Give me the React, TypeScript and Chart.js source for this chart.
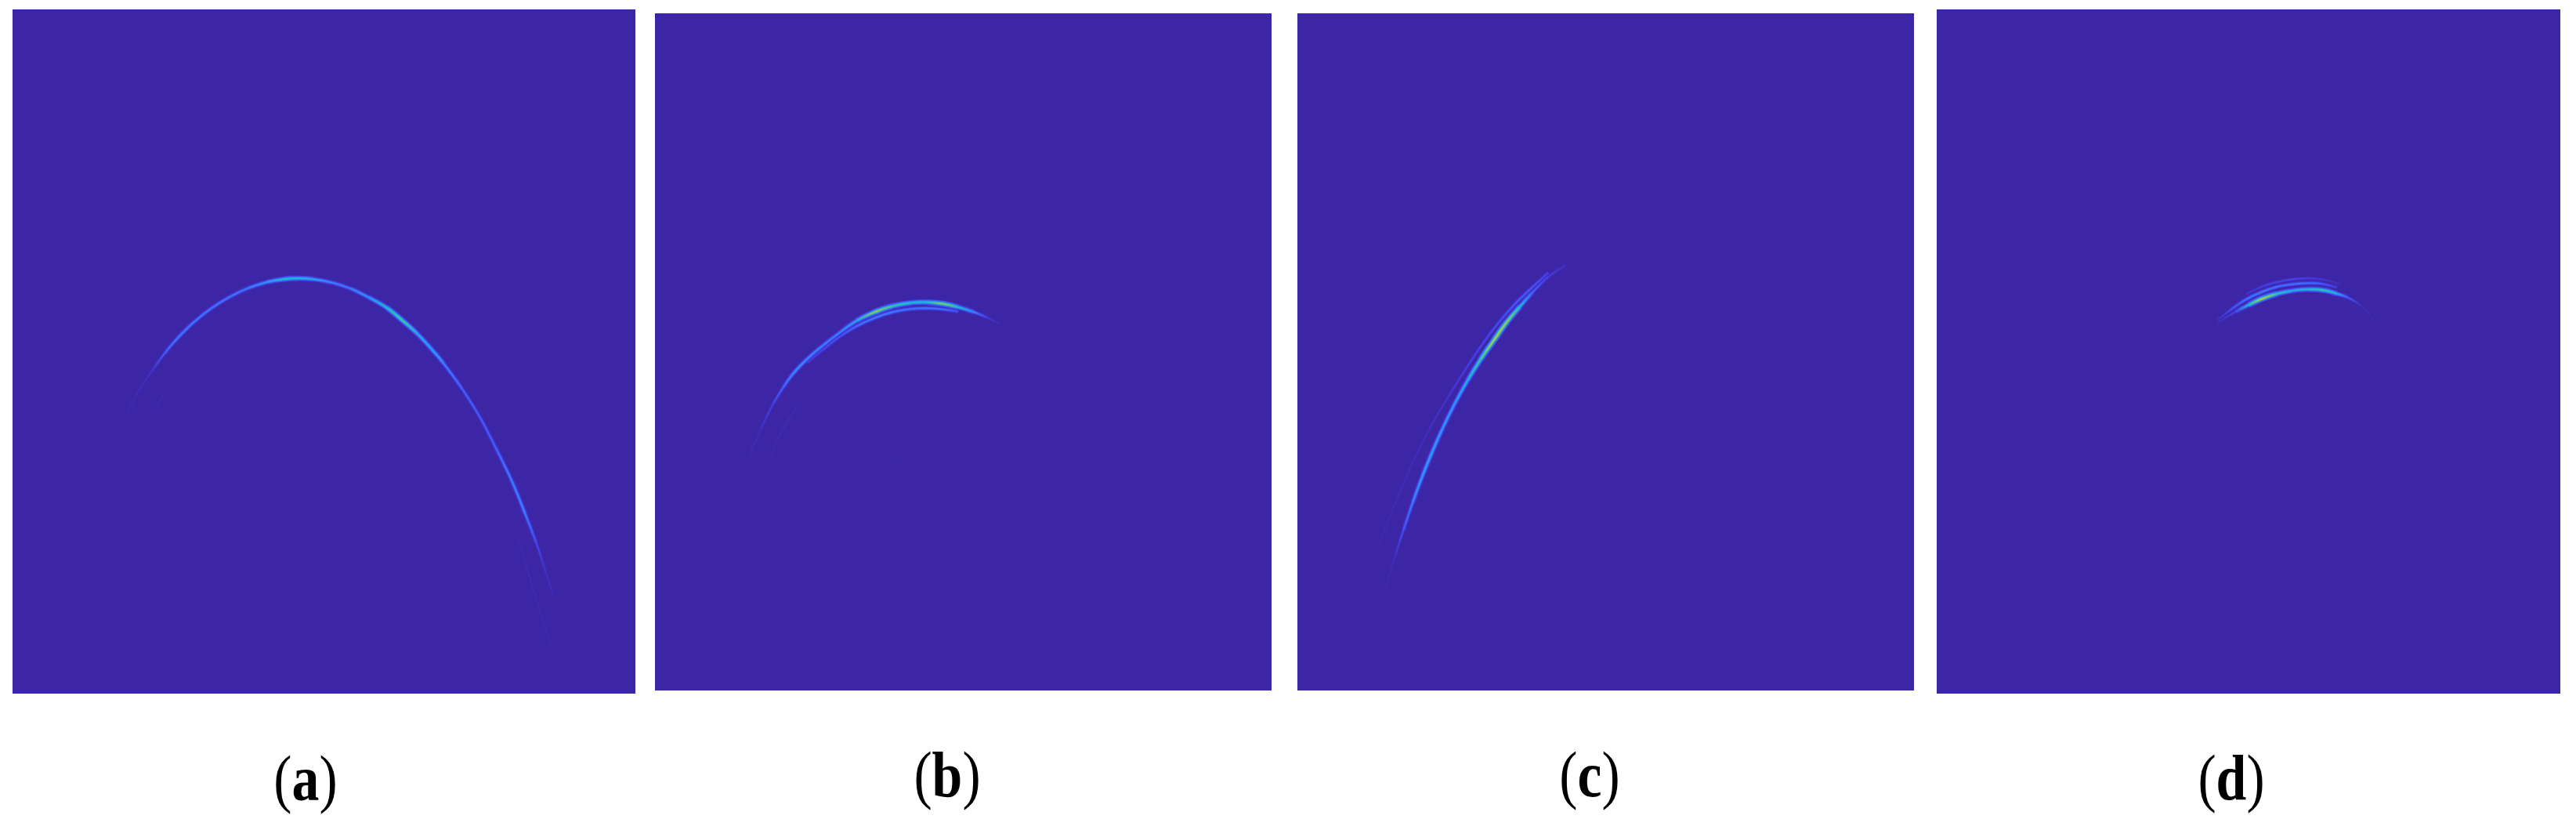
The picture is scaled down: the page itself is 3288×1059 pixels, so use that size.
import React, { useEffect, useRef } from "react";
import { Chart, registerables } from "chart.js";

Chart.register(...registerables);

// level is the colour-map level (0 to 1) along the ridge.
const aMainX = [18.3, 20.2, 22.3, 24.4, 26.5, 29.0, 31.9, 34.9, 37.8, 40.8, 43.3, 45.8, 48.3, 51.2, 54.2, 57.1, 60.0, 62.6, 65.1, 68.2, 69.3, 72.2, 75.1, 77.6, 80.2, 82.3, 84.1, 85.6, 86.9];
const aMainY = [59.3, 55.9, 52.95, 50.3, 48.05, 45.8, 43.7, 42.0, 40.75, 39.87, 39.45, 39.3, 39.43, 39.91, 40.78, 42.05, 43.55, 45.45, 47.5, 50.6, 51.84, 55.47, 59.7, 64.1, 69.0, 73.7, 78.0, 82.2, 85.9];
const aMainLevel = [0.01, 0.03, 0.06, 0.2, 0.28, 0.28, 0.26, 0.26, 0.28, 0.36, 0.5, 0.48, 0.4, 0.3, 0.28, 0.35, 0.5, 0.6, 0.42, 0.38, 0.3, 0.22, 0.2, 0.22, 0.3, 0.3, 0.15, 0.05, 0.02];
const aTailX = [81.0, 83.5, 86.5];
const aTailY = [76.9, 84.5, 93.3];
const aTailLevel = [0.01, 0.03, 0.01];
const aFaintX = [22.3, 24.4];
const aFaintY = [59.3, 55.9];
const aFaintLevel = [0.01, 0.02];

const bMainX = [14.9, 17.0, 19.1, 20.8, 22.5, 24.7, 27.2, 30.2, 32.7, 35.7, 38.6, 41.6, 44.1, 46.7, 49.2, 51.8, 53.9, 55.8];
const bMainY = [66.3, 61.68, 57.8, 55.25, 53.12, 51.03, 49.08, 46.98, 45.4, 44.1, 43.22, 42.74, 42.66, 42.89, 43.39, 44.14, 44.94, 45.83];
const bMainLevel = [0.01, 0.04, 0.12, 0.22, 0.34, 0.32, 0.3, 0.3, 0.42, 0.72, 0.56, 0.5, 0.5, 0.7, 0.5, 0.3, 0.1, 0.02];
const bInnerX = [24.7, 27.2, 30.2, 32.7, 35.7, 38.6, 41.6, 44.1, 46.7, 49.2];
const bInnerY = [51.6, 49.7, 47.6, 46.2, 44.95, 44.1, 43.65, 43.55, 43.7, 44.05];
const bInnerLevel = [0.1, 0.14, 0.18, 0.24, 0.28, 0.28, 0.26, 0.26, 0.26, 0.16];
const bFaintX = [18.7, 20.8, 23.6];
const bFaintY = [65.5, 61.3, 57.4];
const bFaintLevel = [0.01, 0.03, 0.01];
const bSmudgeX = [35.7, 39.9];
const bSmudgeY = [67.9, 65.9];
const bSmudgeLevel = [0.01, 0.01];

const cMainX = [14.3, 15.8, 17.2, 18.7, 20.2, 21.9, 23.6, 25.5, 27.6, 29.7, 31.9, 34.0, 36.1, 38.2, 40.7, 43.5];
const cMainY = [84.8, 80.3, 76.31, 72.26, 68.51, 64.69, 61.2, 57.69, 54.22, 51.13, 48.23, 45.55, 43.3, 41.15, 38.9, 37.2];
const cMainLevel = [0.01, 0.04, 0.18, 0.3, 0.38, 0.4, 0.36, 0.36, 0.45, 0.58, 0.76, 0.72, 0.5, 0.22, 0.12, 0.04];
const cOuterX = [13.2, 15.8, 18.7, 21.7, 24.7, 27.6, 30.2, 32.7, 35.2, 37.8, 40.7];
const cOuterY = [78.7, 72.5, 66.3, 60.9, 56.3, 52.1, 48.6, 45.6, 43.0, 40.7, 38.3];
const cOuterLevel = [0.01, 0.03, 0.03, 0.05, 0.08, 0.12, 0.14, 0.16, 0.2, 0.2, 0.12];

const dMainX = [45.0, 47.9, 50.0, 52.1, 54.6, 57.1, 59.6, 62.1, 64.2, 65.9, 68.0, 70.5];
const dMainY = [45.8, 44.2, 43.2, 42.3, 41.55, 41.1, 40.9, 41.05, 41.55, 42.1, 43.3, 45.8];
const dMainLevel = [0.02, 0.14, 0.5, 0.78, 0.55, 0.42, 0.48, 0.56, 0.42, 0.2, 0.03, 0.01];
const dOuterX = [45.0, 47.1, 49.6, 52.1, 55.0, 58.4, 61.3, 64.2];
const dOuterY = [45.4, 43.93, 42.38, 41.3, 40.45, 40.04, 40.04, 40.62];
const dOuterLevel = [0.03, 0.16, 0.26, 0.28, 0.25, 0.26, 0.22, 0.1];
const dTopX = [49.6, 52.5, 55.9, 59.2, 62.1, 64.7];
const dTopY = [41.6, 40.4, 39.6, 39.3, 39.5, 40.2];
const dTopLevel = [0.06, 0.12, 0.14, 0.12, 0.08, 0.03];

const panelA = [
  [aTailX, aTailY, aTailLevel],
  [aFaintX, aFaintY, aFaintLevel],
  [aMainX, aMainY, aMainLevel],
];
const panelB = [
  [bSmudgeX, bSmudgeY, bSmudgeLevel],
  [bFaintX, bFaintY, bFaintLevel],
  [bInnerX, bInnerY, bInnerLevel],
  [bMainX, bMainY, bMainLevel],
];
const panelC = [
  [cOuterX, cOuterY, cOuterLevel],
  [cMainX, cMainY, cMainLevel],
];
const panelD = [
  [dTopX, dTopY, dTopLevel],
  [dOuterX, dOuterY, dOuterLevel],
  [dMainX, dMainY, dMainLevel],
];

const captions = ["a", "b", "c", "d"];

const BACKGROUND = "#3D26A6";
const colourStops: number[][] = [
  [61, 38, 166],
  [70, 62, 235],
  [62, 110, 252],
  [38, 155, 240],
  [24, 185, 205],
  [70, 200, 150],
  [170, 200, 60],
  [250, 190, 60],
  [249, 251, 21],
];

function colourAt(level: number) {
  const t = Math.max(0, Math.min(1, level)) * (colourStops.length - 1);
  const i = Math.min(colourStops.length - 2, Math.floor(t));
  const f = t - i;
  const c = colourStops[i].map((v, k) => Math.round(v + (colourStops[i + 1][k] - v) * f));
  return `rgb(${c[0]},${c[1]},${c[2]})`;
}

function ridgeDatasets(x: number[], y: number[], level: number[]) {
  const data = x.map((v, i) => ({ x: v, y: y[i] }));
  const layer = (gain: number, widthOf: (l: number) => number) => ({
    data,
    showLine: true,
    pointRadius: 0,
    tension: 0.4,
    borderWidth: 2,
    borderCapStyle: "butt" as const,
    segment: {
      borderColor: (ctx: any) => {
        const g = ctx.chart.ctx.createLinearGradient(ctx.p0.x, ctx.p0.y, ctx.p1.x, ctx.p1.y);
        g.addColorStop(0, colourAt(level[ctx.p0DataIndex] * gain));
        g.addColorStop(1, colourAt(level[ctx.p1DataIndex] * gain));
        return g;
      },
      borderWidth: (ctx: any) => widthOf((level[ctx.p0DataIndex] + level[ctx.p1DataIndex]) / 2),
    },
  });
  // Chart.js paints the first dataset last, so the bright core comes first.
  return [
    layer(1, (l) => 0.8 + 2.0 * Math.sqrt(l)),
    layer(0.62, (l) => 1 + 4.6 * Math.sqrt(l)),
    layer(0.28, (l) => 1.5 + 8 * Math.sqrt(l)),
  ];
}

const backgroundPlugin = {
  id: "panelBackground",
  beforeDraw(chart: any) {
    const { ctx, width, height } = chart;
    ctx.save();
    ctx.fillStyle = BACKGROUND;
    ctx.fillRect(0, 0, width, height);
    ctx.restore();
  },
};

function Panel({ ridges, left, top, width, height }: any) {
  const ref = useRef<HTMLCanvasElement>(null);
  useEffect(() => {
    const chart = new Chart(ref.current!, {
      type: "scatter",
      data: {
        // Brightest ridge last in the panel lists, so reverse to paint it on top.
        datasets: [...ridges].reverse().flatMap((r: number[][]) => ridgeDatasets(r[0], r[1], r[2])),
      },
      options: {
        animation: false,
        responsive: false,
        maintainAspectRatio: false,
        layout: { padding: 0 },
        plugins: { legend: { display: false }, tooltip: { enabled: false } },
        scales: {
          x: { type: "linear", display: false, min: 0, max: 100 },
          y: { type: "linear", display: false, min: 0, max: 100, reverse: true },
        },
      },
      plugins: [backgroundPlugin],
    } as any);
    return () => chart.destroy();
  }, [ridges]);
  return (
    <canvas
      ref={ref}
      width={width}
      height={height}
      style={{ position: "absolute", left, top, width, height, display: "block" }}
    />
  );
}

function Caption({ letter, centre, top }: any) {
  return (
    <div
      style={{
        position: "absolute",
        left: centre - 100,
        top,
        width: 200,
        textAlign: "center",
        fontFamily: '"Liberation Serif", serif',
        fontSize: 82,
        lineHeight: "80px",
        color: "#000",
        transform: "scaleX(0.85)",
      }}
    >
      (<b>{letter}</b>)
    </div>
  );
}

const panels = [
  { ridges: panelA, left: 16, top: 12, width: 795, height: 873, centre: 390, captionTop: 954 },
  { ridges: panelB, left: 836, top: 17, width: 787, height: 864, centre: 1209, captionTop: 949 },
  { ridges: panelC, left: 1656, top: 17, width: 787, height: 864, centre: 2029, captionTop: 949 },
  { ridges: panelD, left: 2472, top: 12, width: 796, height: 873, centre: 2848, captionTop: 953 },
];

export default function App() {
  return (
    <div style={{ position: "absolute", left: 0, top: 0, width: 3288, height: 1059, overflow: "hidden", background: "#fff" }}>
      {panels.map((p, i) => (
        <React.Fragment key={captions[i]}>
          <Panel ridges={p.ridges} left={p.left} top={p.top} width={p.width} height={p.height} />
          <Caption letter={captions[i]} centre={p.centre} top={p.captionTop} />
        </React.Fragment>
      ))}
    </div>
  );
}
